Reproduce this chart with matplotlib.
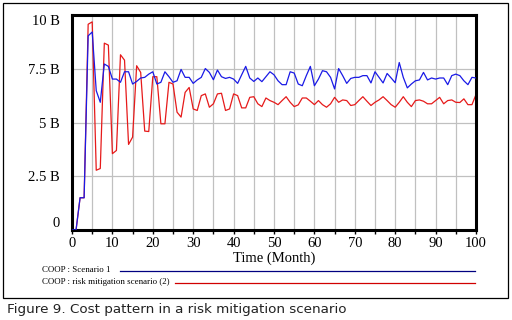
import matplotlib
matplotlib.use("Agg")
import matplotlib.pyplot as plt
from matplotlib.lines import Line2D
from matplotlib.patches import Rectangle
import numpy as np

months = list(range(0, 101))

scenario1 = [0, 0, 1.5, 1.5, 9.03, 9.21, 6.48, 5.94, 7.72, 7.61,
             7.02, 7.02, 6.87, 7.36, 7.36, 6.79, 6.91, 7.07, 7.10, 7.25,
             7.36, 6.79, 6.87, 7.36, 7.13, 6.87, 6.94, 7.47, 7.10, 7.10,
             6.82, 6.98, 7.10, 7.51, 7.33, 6.99, 7.44, 7.13, 7.05, 7.10,
             7.02, 6.82, 7.22, 7.61, 7.07, 6.91, 7.07, 6.90, 7.13, 7.36,
             7.22, 6.94, 6.76, 6.76, 7.36, 7.30, 6.79, 6.71, 7.18, 7.61,
             6.71, 7.02, 7.41, 7.36, 7.10, 6.56, 7.51, 7.18, 6.82, 7.05,
             7.10, 7.10, 7.18, 7.18, 6.84, 7.36, 7.10, 6.84, 7.28, 7.07,
             6.85, 7.79, 7.10, 6.61, 6.79, 6.94, 6.98, 7.33, 6.98, 7.07,
             7.02, 7.07, 7.07, 6.76, 7.18, 7.25, 7.18, 6.94, 6.76, 7.10,
             7.07]

mitigation = [0, 0, 1.5, 1.5, 9.57, 9.68, 2.78, 2.86, 8.69, 8.60,
              3.55, 3.70, 8.15, 7.90, 3.98, 4.32, 7.64, 7.33, 4.60, 4.58,
              7.13, 7.13, 4.94, 4.94, 6.87, 6.79, 5.48, 5.25, 6.40, 6.63,
              5.63, 5.56, 6.25, 6.33, 5.71, 5.87, 6.33, 6.36, 5.56, 5.63,
              6.33, 6.25, 5.68, 5.68, 6.17, 6.20, 5.87, 5.74, 6.14, 6.02,
              5.94, 5.83, 6.02, 6.20, 5.94, 5.74, 5.82, 6.14, 6.14, 5.99,
              5.83, 6.02, 5.83, 5.71, 5.87, 6.17, 5.94, 6.05, 6.02, 5.79,
              5.83, 6.02, 6.20, 5.99, 5.79, 5.94, 6.05, 6.20, 6.02, 5.83,
              5.71, 5.94, 6.20, 5.94, 5.74, 6.02, 6.05, 5.99, 5.87, 5.87,
              6.02, 6.17, 5.87, 6.02, 6.05, 5.94, 5.93, 6.10, 5.83, 5.83,
              6.30]

y_ticks = [0, 2.5, 5, 7.5, 10]
y_labels = ["0", "2.5 B", "5 B", "7.5 B", "10 B"]
x_ticks = list(range(0, 101, 10))
x_labels = [str(v) for v in x_ticks]
legend_labels = ["COOP : Scenario 1", "COOP : risk mitigation scenario (2)"]
x_label = "Time (Month)"
caption = "Figure 9. Cost pattern in a risk mitigation scenario"

W, H = 512, 320
fig = plt.figure(figsize=(W / 100, H / 100), dpi=100)
fig.patch.set_facecolor("white")

serif = ["Liberation Serif", "DejaVu Serif"]

# outer frame
fig.add_artist(Rectangle((2.5 / W, 1 - 297.5 / H), 505.5 / W, 294.5 / H,
                         transform=fig.transFigure, fill=False,
                         edgecolor="black", linewidth=0.9))

ax = fig.add_axes([72 / W, 1 - 230 / H, 404 / W, 215 / H])
ax.plot(months, scenario1, color="#1a1ae6", linewidth=0.9, zorder=3)
ax.plot(months, mitigation, color="#e61a1a", linewidth=0.9, zorder=2)
ax.set_xlim(0, 100)
ax.set_ylim(0, 10)

ax.set_xticks(x_ticks)
ax.set_xticklabels(x_labels, fontfamily=serif, fontsize=10.5)
ax.set_xticks(list(range(5, 100, 10)), minor=True)
ax.set_yticks(y_ticks)
ylabs = ax.set_yticklabels(y_labels, fontfamily=serif, fontsize=10.5)
ylabs[0].set_verticalalignment("bottom")
ylabs[-1].set_verticalalignment("top")
ax.tick_params(axis="x", which="both", direction="out", length=3, width=1,
               pad=2, color="black")
ax.tick_params(axis="y", which="both", length=0, pad=9)
ax.grid(True, which="both", color="#c0c0c0", linewidth=0.9, zorder=0)
ax.set_axisbelow(True)
for s in ax.spines.values():
    s.set_linewidth(2.2)
    s.set_color("black")

ax.set_xlabel(x_label, fontfamily=serif, fontsize=10.5, labelpad=1)

# legend rows
fig.text(42 / W, 1 - 270 / H, legend_labels[0], fontfamily=serif, fontsize=6.4,
         va="center", ha="left")
fig.add_artist(Line2D([120 / W, 475 / W], [1 - 271 / H, 1 - 271 / H],
                      transform=fig.transFigure, color="#000080", linewidth=0.9))
fig.text(42 / W, 1 - 282 / H, legend_labels[1], fontfamily=serif, fontsize=6.4,
         va="center", ha="left")
fig.add_artist(Line2D([175 / W, 475 / W], [1 - 283 / H, 1 - 283 / H],
                      transform=fig.transFigure, color="#d00000", linewidth=0.9))

fig.text(7 / W, 1 - 310 / H, caption, fontfamily=["DejaVu Sans"],
         fontsize=9.7, va="center", ha="left", color="#222222")

fig.savefig("out.png", dpi=100, facecolor="white")
